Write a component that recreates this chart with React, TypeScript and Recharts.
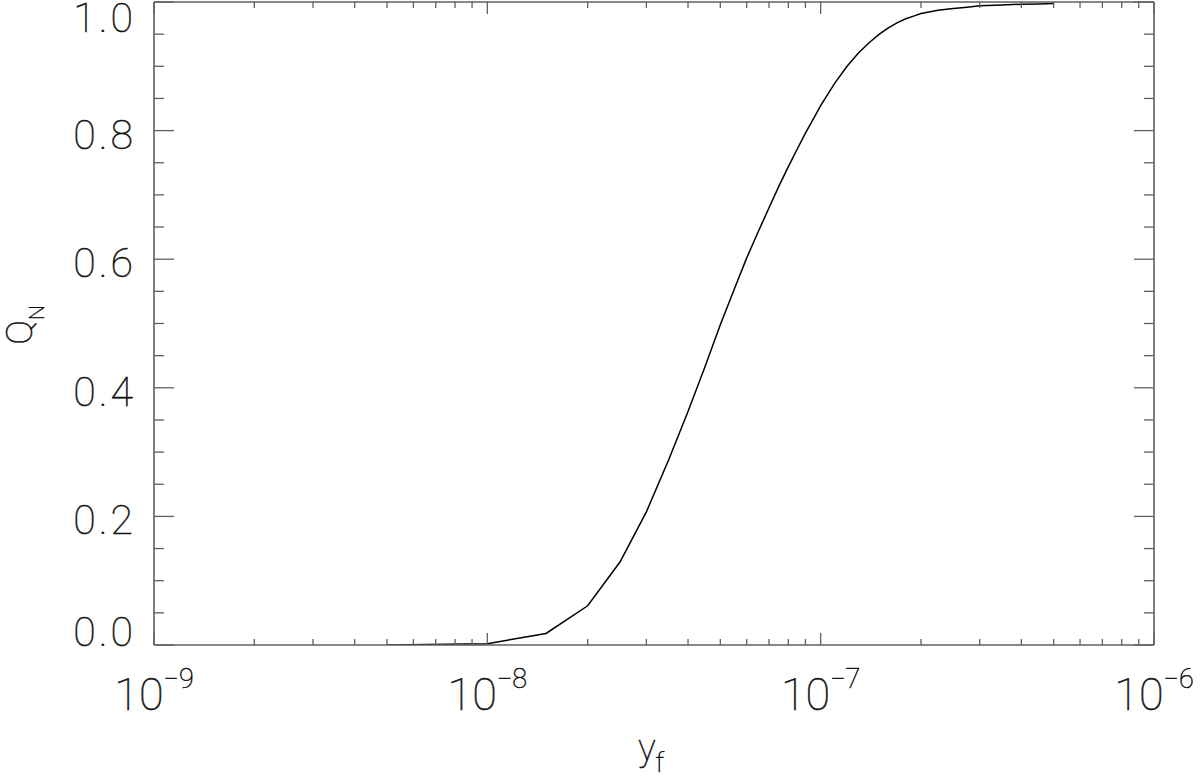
import React from 'react';
import { LineChart, Line, XAxis, YAxis } from 'recharts';

const yfValues = [
  5e-9, 1e-8, 1.5e-8, 2e-8, 2.5e-8, 3e-8, 3.5e-8, 4e-8, 4.5e-8, 5e-8,
  5.5e-8, 6e-8, 6.5e-8, 7e-8, 7.5e-8, 8e-8, 8.5e-8, 9e-8, 9.5e-8, 1e-7,
  1.1e-7, 1.2e-7, 1.3e-7, 1.4e-7, 1.5e-7, 1.6e-7, 1.7e-7, 1.8e-7, 1.9e-7, 2e-7,
  2.25e-7, 2.5e-7, 2.75e-7, 3e-7, 3.5e-7, 4e-7, 4.5e-7, 5e-7,
];
const qnValues = [
  0.0, 0.002, 0.018, 0.061, 0.129, 0.207, 0.288, 0.363, 0.433, 0.498,
  0.553, 0.602, 0.643, 0.68, 0.714, 0.744, 0.771, 0.796, 0.818, 0.839,
  0.873, 0.9, 0.921, 0.937, 0.95, 0.96, 0.968, 0.974, 0.978, 0.982,
  0.987, 0.99, 0.992, 0.994, 0.9955, 0.9965, 0.997, 0.9975,
];

const xMajorTicks = [1e-9, 1e-8, 1e-7, 1e-6];
const xMajorExponents = ['\u22129', '\u22128', '\u22127', '\u22126'];
const xMinorTicks = [
  2e-9, 3e-9, 4e-9, 5e-9, 6e-9, 7e-9, 8e-9, 9e-9,
  2e-8, 3e-8, 4e-8, 5e-8, 6e-8, 7e-8, 8e-8, 9e-8,
  2e-7, 3e-7, 4e-7, 5e-7, 6e-7, 7e-7, 8e-7, 9e-7,
];
const yTicks = [
  0, 0.05, 0.1, 0.15, 0.2, 0.25, 0.3, 0.35, 0.4, 0.45, 0.5,
  0.55, 0.6, 0.65, 0.7, 0.75, 0.8, 0.85, 0.9, 0.95, 1.0,
];
const yMajorTicks = [0, 0.2, 0.4, 0.6, 0.8, 1.0];
const yMajorLabels = ['0.0', '0.2', '0.4', '0.6', '0.8', '1.0'];

const data = yfValues.map((yf, i) => ({ yf, qn: qnValues[i] }));
const allXTicks = [...xMajorTicks, ...xMinorTicks].sort((a, b) => a - b);

const AXIS = '#606060';
const FONT = "Roboto, 'DejaVu Sans', sans-serif";
const WEIGHT = 100;
const TEXT_COLOR = '#111';
const TEXT_STROKE = 0.5;
const PLOT_TOP = 2;
const PLOT_BOTTOM = 645;

const majorXIndex = (v: number) =>
  xMajorTicks.findIndex((t) => Math.abs(Math.log10(t) - Math.log10(v)) < 1e-6);
const majorYIndex = (v: number) =>
  yMajorTicks.findIndex((t) => Math.abs(t - v) < 1e-6);

const BottomTick = (props: any) => {
  const { x, y, payload } = props;
  const idx = majorXIndex(payload.value);
  const len = idx >= 0 ? 12 : 6;
  return (
    <g>
      <line x1={x} x2={x} y1={y} y2={y - len} stroke={AXIS} strokeWidth={1.3} />
      {idx >= 0 && (
        <text
          x={x}
          y={y + 65}
          textAnchor="middle"
          fontFamily={FONT}
          fontWeight={WEIGHT}
          fill={TEXT_COLOR}
          stroke={TEXT_COLOR}
          strokeWidth={TEXT_STROKE}
        >
          <tspan fontSize={45}>10</tspan>
          <tspan fontSize={27} dy={-22}>{xMajorExponents[idx]}</tspan>
        </text>
      )}
    </g>
  );
};

const TopTick = (props: any) => {
  const { x, y, payload } = props;
  const idx = majorXIndex(payload.value);
  const len = idx >= 0 ? 12 : 6;
  return <line x1={x} x2={x} y1={y} y2={y + len} stroke={AXIS} strokeWidth={1.3} />;
};

const LeftTick = (props: any) => {
  const { x, y, payload } = props;
  const idx = majorYIndex(payload.value);
  const len = idx >= 0 ? 20 : 10;
  let center = y + 3;
  if (center < PLOT_TOP + 15) center = PLOT_TOP + 15;
  if (center > PLOT_BOTTOM - 14) center = PLOT_BOTTOM - 14;
  return (
    <g>
      <line x1={x} x2={x + len} y1={y} y2={y} stroke={AXIS} strokeWidth={1.3} />
      {idx >= 0 && (
        <text
          x={x - 18}
          y={center + 15}
          textAnchor="end"
          fontFamily={FONT}
          fontWeight={WEIGHT}
          fontSize={41}
          letterSpacing={3}
          fill={TEXT_COLOR}
          stroke={TEXT_COLOR}
          strokeWidth={TEXT_STROKE}
        >
          {yMajorLabels[idx]}
        </text>
      )}
    </g>
  );
};

const RightTick = (props: any) => {
  const { x, y, payload } = props;
  const idx = majorYIndex(payload.value);
  const len = idx >= 0 ? 20 : 10;
  return <line x1={x} x2={x - len} y1={y} y2={y} stroke={AXIS} strokeWidth={1.3} />;
};

const XTitle = (props: any) => {
  const vb = props.viewBox || { x: 154, y: 645, width: 1000, height: 132 };
  return (
    <text
      x={vb.x + vb.width / 2 - 3}
      y={vb.y + 115}
      textAnchor="middle"
      fontFamily={FONT}
      fontWeight={WEIGHT}
      fill={TEXT_COLOR}
      stroke={TEXT_COLOR}
      strokeWidth={TEXT_STROKE}
    >
      <tspan fontSize={37}>y</tspan>
      <tspan fontSize={27} dy={12}>f</tspan>
    </text>
  );
};

const YTitle = () => {
  const cx = 32;
  const cy = 325;
  return (
    <text
      x={cx}
      y={cy}
      transform={`rotate(-90, ${cx}, ${cy})`}
      textAnchor="middle"
      fontFamily={FONT}
      fontWeight={WEIGHT}
      fill={TEXT_COLOR}
      stroke={TEXT_COLOR}
      strokeWidth={TEXT_STROKE}
    >
      <tspan fontSize={37}>Q</tspan>
      <tspan fontSize={21} dy={12}>N</tspan>
    </text>
  );
};

export default function App() {
  return (
    <div style={{ position: 'absolute', left: 0, top: 0, background: '#fff' }}>
      <LineChart width={1200} height={777} data={data} margin={{ top: 0, right: 0, bottom: 0, left: 0 }}>
        <XAxis
          xAxisId="bottom"
          dataKey="yf"
          type="number"
          scale="log"
          domain={[1e-9, 1e-6]}
          allowDataOverflow
          ticks={allXTicks}
          interval={0}
          height={132}
          tickSize={0}
          tickMargin={0}
          tickLine={false}
          axisLine={{ stroke: AXIS, strokeWidth: 1.6 }}
          tick={<BottomTick />}
          label={{ content: <XTitle /> }}
        />
        <XAxis
          xAxisId="top"
          orientation="top"
          dataKey="yf"
          type="number"
          scale="log"
          domain={[1e-9, 1e-6]}
          allowDataOverflow
          ticks={allXTicks}
          interval={0}
          height={PLOT_TOP}
          tickSize={0}
          tickMargin={0}
          tickLine={false}
          axisLine={{ stroke: AXIS, strokeWidth: 1.6 }}
          tick={<TopTick />}
        />
        <YAxis
          yAxisId="left"
          type="number"
          domain={[0, 1]}
          allowDataOverflow
          ticks={yTicks}
          interval={0}
          width={154}
          tickSize={0}
          tickMargin={0}
          tickLine={false}
          axisLine={{ stroke: AXIS, strokeWidth: 1.6 }}
          tick={<LeftTick />}
          label={{ content: <YTitle /> }}
        />
        <YAxis
          yAxisId="right"
          orientation="right"
          type="number"
          domain={[0, 1]}
          allowDataOverflow
          ticks={yTicks}
          interval={0}
          width={46}
          tickSize={0}
          tickMargin={0}
          tickLine={false}
          axisLine={{ stroke: AXIS, strokeWidth: 1.6 }}
          tick={<RightTick />}
        />
        <Line
          xAxisId="bottom"
          yAxisId="left"
          type="linear"
          dataKey="qn"
          stroke="#000"
          strokeWidth={1.5}
          dot={false}
          isAnimationActive={false}
        />
      </LineChart>
    </div>
  );
}
